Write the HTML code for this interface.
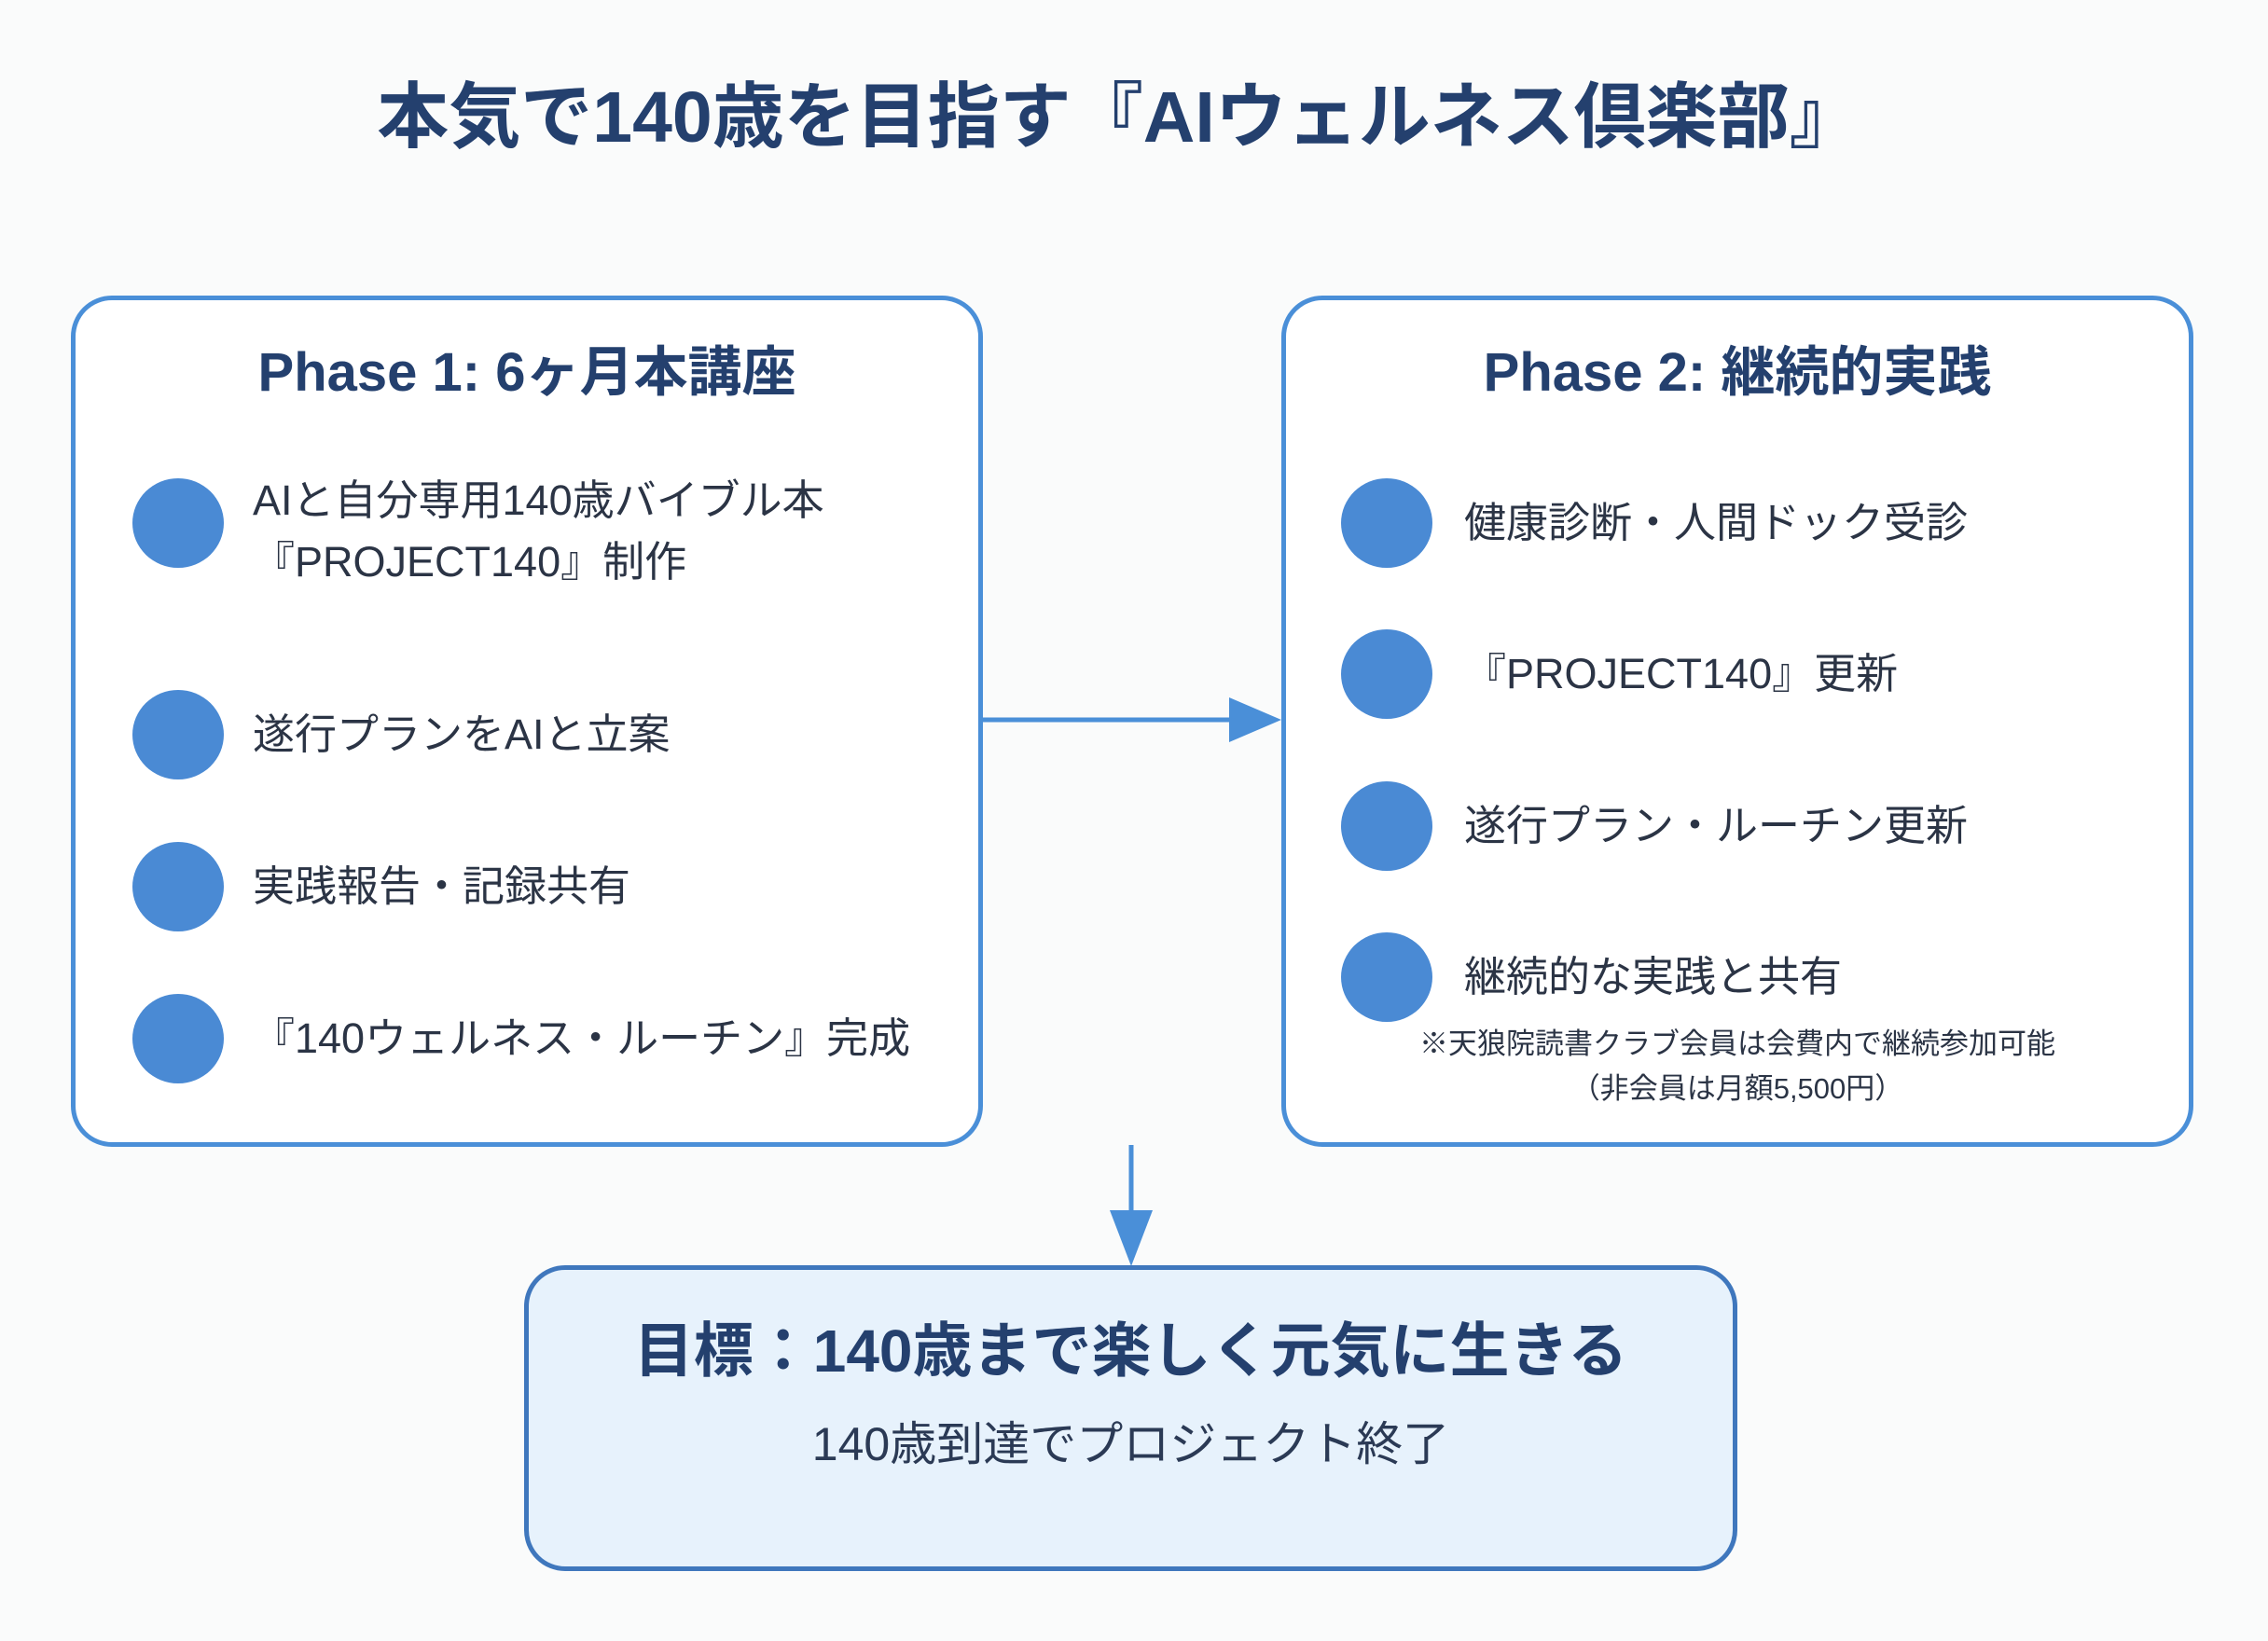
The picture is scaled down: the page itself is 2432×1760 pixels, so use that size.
<!DOCTYPE html>
<html><head><meta charset="utf-8"><style>
body{margin:0;width:2432px;height:1760px;background:#fafbfb;position:relative;overflow:hidden;font-family:"Liberation Sans","Noto Sans CJK JP",sans-serif;color:#2b3a55}
.a{position:absolute;white-space:nowrap}
.box{position:absolute;border:5px solid #4a8fd8;border-radius:44px;background:#fff;box-sizing:border-box}
.h{font-weight:bold;color:#24406e}
.c{position:absolute;width:98px;height:96px;border-radius:50%;background:#4a8ad4}
.t{font-size:45px;color:#2b3445;line-height:66px}
</style></head><body>
<div class="a h" style="left:0;width:2400px;text-align:center;top:64px;font-size:77px">本気で140歳を目指す『AIウェルネス倶楽部』</div>

<div class="box" style="left:76px;top:317px;width:978px;height:913px"></div>
<div class="box" style="left:1374px;top:317px;width:978px;height:913px"></div>

<div class="a h" style="left:76px;width:978px;text-align:center;top:352px;font-size:58px">Phase 1: 6ヶ月本講座</div>
<div class="a h" style="left:1374px;width:978px;text-align:center;top:352px;font-size:58px">Phase 2: 継続的実践</div>

<div class="c" style="left:142px;top:513px"></div>
<div class="c" style="left:142px;top:740px"></div>
<div class="c" style="left:142px;top:903px"></div>
<div class="c" style="left:142px;top:1066px"></div>
<div class="a t" style="left:271px;top:504px">AIと自分専用140歳バイブル本<br>『PROJECT140』制作</div>
<div class="a t" style="left:271px;top:755px">遂行プランをAIと立案</div>
<div class="a t" style="left:271px;top:918px">実践報告・記録共有</div>
<div class="a t" style="left:271px;top:1081px">『140ウェルネス・ルーチン』完成</div>

<div class="c" style="left:1438px;top:513px"></div>
<div class="c" style="left:1438px;top:675px"></div>
<div class="c" style="left:1438px;top:838px"></div>
<div class="c" style="left:1438px;top:1000px"></div>
<div class="a t" style="left:1570px;top:528px">健康診断・人間ドック受診</div>
<div class="a t" style="left:1570px;top:690px">『PROJECT140』更新</div>
<div class="a t" style="left:1570px;top:853px">遂行プラン・ルーチン更新</div>
<div class="a t" style="left:1570px;top:1015px">継続的な実践と共有</div>
<div class="a" style="left:1374px;width:978px;text-align:center;top:1096px;font-size:31px;line-height:48px;color:#2b3445">※天狼院読書クラブ会員は会費内で継続参加可能<br>（非会員は月額5,500円）</div>

<svg class="a" style="left:0;top:0" width="2432" height="1760">
<line x1="1054" y1="772" x2="1330" y2="772" stroke="#4a8fd8" stroke-width="5"/>
<polygon points="1318,748 1374,772 1318,796" fill="#4a8fd8"/>
<line x1="1213" y1="1228" x2="1213" y2="1310" stroke="#4a8fd8" stroke-width="5"/>
<polygon points="1190,1298 1236,1298 1213,1358" fill="#4a8fd8"/>
</svg>

<div class="box" style="left:562px;top:1357px;width:1301px;height:328px;background:#e7f2fc;border-color:#3f77bd"></div>
<div class="a h" style="left:562px;width:1301px;text-align:center;top:1398px;font-size:64px">目標：140歳まで楽しく元気に生きる</div>
<div class="a" style="left:562px;width:1301px;text-align:center;top:1509px;font-size:50px;color:#2b3a55">140歳到達でプロジェクト終了</div>
</body></html>
